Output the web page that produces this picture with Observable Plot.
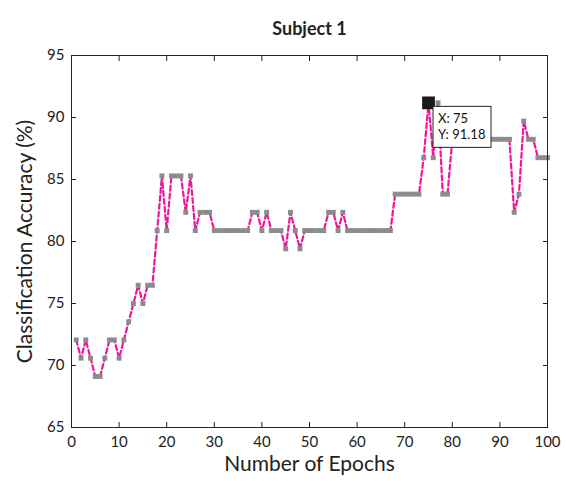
<!DOCTYPE html>
<html><head><meta charset="utf-8">
<script src="https://cdn.jsdelivr.net/npm/d3@7"></script>
<script src="https://cdn.jsdelivr.net/npm/@observablehq/plot@0.6"></script>
<style>body{margin:0;background:#fff} #chart svg{font-family:Lato,"Open Sans",sans-serif;overflow:visible}</style>
</head><body><div id="chart"></div>
<script>
// Classification accuracy (%) per epoch, epochs 1..100
const accuracy = [
  72.06,70.59,72.06,70.59,69.12,69.12,70.59,72.06,72.06,70.59,
  72.06,73.53,75.00,76.47,75.00,76.47,76.47,80.88,85.29,80.88,
  85.29,85.29,85.29,82.35,85.29,80.88,82.35,82.35,82.35,80.88,
  80.88,80.88,80.88,80.88,80.88,80.88,80.88,82.35,82.35,80.88,
  82.35,80.88,80.88,80.88,79.41,82.35,80.88,79.41,80.88,80.88,
  80.88,80.88,80.88,82.35,82.35,80.88,82.35,80.88,80.88,80.88,
  80.88,80.88,80.88,80.88,80.88,80.88,80.88,83.82,83.82,83.82,
  83.82,83.82,83.82,86.76,91.18,86.76,91.18,83.82,83.82,88.24,
  88.24,88.24,88.24,88.24,88.24,88.24,88.24,88.24,88.24,88.24,
  88.24,88.24,82.35,83.82,89.71,88.24,88.24,86.76,86.76,86.76
];
const xTicks = [0,10,20,30,40,50,60,70,80,90,100];
const yTicks = [65,70,75,80,85,90,95];
const highlight = [{epoch:75, acc:91.18}];
const tipLines = ["X: 75", "Y: 91.18"];

const data = accuracy.map((a,i)=>({epoch:i+1, acc:a}));

const plot = Plot.plot({
  width:567, height:481,
  marginLeft:71, marginRight:20, marginTop:55, marginBottom:54,
  style:{fontFamily:"Lato, 'Open Sans', sans-serif", fontSize:"15px", color:"#222", background:"#fff"},
  x:{domain:[0,100]},
  y:{domain:[65,95]},
  marks:[
    Plot.line(data, {x:"epoch", y:"acc", stroke:"#f0169b", strokeWidth:2.2, strokeDasharray:"5,3"}),
    Plot.dot(data, {x:"epoch", y:"acc", symbol:"square", r:2.8, fill:"#8c8c8c", stroke:"none"}),
    Plot.dot(highlight, {x:"epoch", y:"acc", symbol:"square", r:7.2, fill:"#1a1a1a", stroke:"none"}),
    Plot.frame({stroke:"#222", strokeWidth:1}),
    Plot.axisX(xTicks, {anchor:"bottom", tickSize:-5, tickPadding:14, label:null, fontSize:15, stroke:"#222"}),
    Plot.axisX(xTicks, {anchor:"top", tickSize:-5, tickFormat:()=>"", label:null, stroke:"#222"}),
    Plot.axisY(yTicks, {anchor:"left", tickSize:-5, tickPadding:12, label:null, fontSize:15, stroke:"#222"}),
    Plot.axisY(yTicks, {anchor:"right", tickSize:-5, tickFormat:()=>"", label:null, stroke:"#222"}),
    Plot.text(["Subject 1"], {frameAnchor:"top", dy:-33, fontSize:18, fontWeight:"bold", fill:"#222"}),
    Plot.text(["Number of Epochs"], {frameAnchor:"bottom", dy:43, fontSize:21, fill:"#222"}),
    Plot.text(["Classification Accuracy (%)"], {frameAnchor:"left", dx:-46, rotate:-90, textAnchor:"middle", fontSize:21, fill:"#222"})
  ]
});
document.getElementById("chart").appendChild(plot);

// Data tip box anchored at the highlighted point through the plot's scales
const sx = plot.scale("x"), sy = plot.scale("y");
const px = sx.apply(highlight[0].epoch), py = sy.apply(highlight[0].acc);
const g = d3.select(plot).append("g");
g.append("rect").attr("x", px+5).attr("y", py+4).attr("width", 58).attr("height", 41)
  .attr("fill", "#fff").attr("stroke", "#222").attr("stroke-width", 1);
g.selectAll("text.tip").data(tipLines).join("text")
  .attr("x", px+10).attr("y", (d,i)=>py+21+i*16).attr("text-anchor", "start")
  .attr("font-size", 13).attr("fill", "#111").text(d=>d);
</script>
</body></html>
